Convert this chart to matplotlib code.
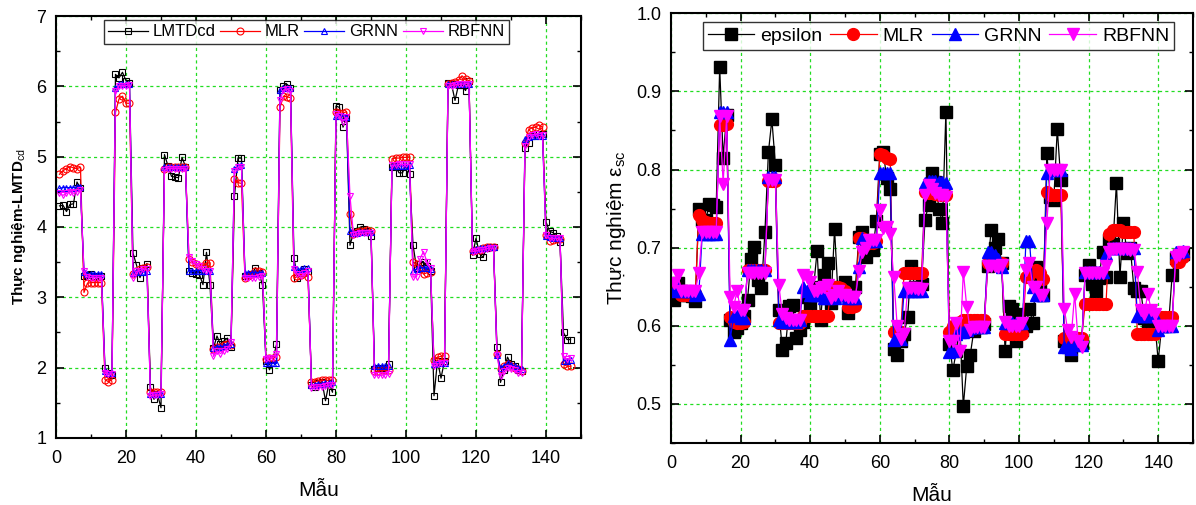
import numpy as np
import matplotlib.pyplot as plt
from matplotlib.ticker import MultipleLocator

plt.rcParams['font.family'] = ['Liberation Sans', 'DejaVu Sans']
plt.rcParams['mathtext.fontset'] = 'custom'
plt.rcParams['mathtext.rm'] = 'Liberation Sans'
plt.rcParams['mathtext.it'] = 'Liberation Sans'

# ---- left panel: LMTDcd (sample 1..147) ----
lmtd = [4.30, 4.31, 4.22, 4.32, 4.33, 4.64, 4.55,
        3.31, 3.32, 3.33, 3.31, 3.30, 3.30,
        2.00, 1.93, 1.89,
        6.17, 6.12, 6.20, 6.08, 6.05,
        3.63, 3.46, 3.28, 3.42, 3.48,
        1.72, 1.55, 1.62, 1.43,
        5.03, 4.87, 4.72, 4.71, 4.70, 4.99, 4.86,
        3.38, 3.35, 3.33, 3.32, 3.18, 3.64, 3.17,
        2.28, 2.45, 2.33, 2.38, 2.42, 2.30,
        4.44, 4.98, 4.98,
        3.30, 3.32, 3.33, 3.42, 3.35, 3.17,
        2.10, 1.97, 2.12, 2.33,
        5.95, 6.01, 6.03, 5.98,
        3.56, 3.28, 3.35, 3.40, 3.38,
        1.75, 1.73, 1.78, 1.80, 1.53, 1.78, 1.65,
        5.72, 5.70, 5.42, 5.55,
        3.74, 3.92, 3.95, 4.00, 3.97, 3.95, 3.87,
        1.98, 2.00, 1.98, 1.99, 2.05,
        4.86, 4.87, 4.77, 4.77, 4.90, 4.76,
        3.75, 3.42, 3.48, 3.50, 3.45, 3.37,
        1.60, 2.10, 1.85, 2.10,
        6.05, 6.03, 5.80, 6.02, 6.02, 5.94, 6.07,
        3.60, 3.84, 3.62, 3.57, 3.70, 3.72, 3.72,
        2.29, 1.79, 1.97, 2.15, 2.05, 2.02, 1.96, 1.95,
        5.13, 5.20, 5.30, 5.32, 5.32, 5.32,
        4.07, 3.94, 3.92, 3.87, 3.79,
        2.50, 2.40, 2.40]
mlr_l = [4.75, 4.80, 4.83, 4.86, 4.84, 4.83, 4.85,
         3.07, 3.20, 3.21, 3.21, 3.21, 3.21,
         1.83, 1.80, 1.83,
         5.63, 5.82, 5.86, 5.76, 5.76,
         3.33, 3.38, 3.40, 3.42, 3.43,
         1.66, 1.66, 1.66, 1.66,
         4.83, 4.86, 4.86, 4.86, 4.86, 4.86, 4.86,
         3.55, 3.50, 3.47, 3.45, 3.44, 3.49, 3.49,
         2.27, 2.30, 2.30, 2.32, 2.33, 2.32,
         4.68, 4.63, 4.62,
         3.27, 3.30, 3.33, 3.37, 3.38, 3.36,
         2.13, 2.14, 2.14, 2.15,
         5.70, 5.86, 5.85, 5.84,
         3.27, 3.30, 3.32, 3.35, 3.29,
         1.80, 1.80, 1.81, 1.82, 1.82, 1.82, 1.83,
         5.63, 5.62, 5.62, 5.64,
         4.19, 3.90, 3.93, 3.94, 3.95, 3.96, 3.95,
         1.95, 1.95, 1.96, 1.96, 1.96,
         4.97, 4.98, 4.98, 4.99, 4.99, 5.00,
         3.50, 3.47, 3.40, 3.33, 3.35, 3.36,
         2.11, 2.15, 2.16, 2.17,
         6.03, 6.05, 6.06, 6.09, 6.15, 6.10, 6.08,
         3.66, 3.68, 3.68, 3.70, 3.71, 3.72, 3.72,
         2.20, 1.98, 2.02, 2.05, 2.02, 2.00, 1.98, 1.95,
         5.20, 5.38, 5.41, 5.42, 5.45, 5.42,
         3.88, 3.80, 3.82, 3.83, 3.83,
         2.05, 2.02, 2.02]
grnn_l = [4.55, 4.56, 4.56, 4.56, 4.56, 4.57, 4.57,
          3.36, 3.33, 3.33, 3.33, 3.33, 3.33,
          1.95, 1.93, 1.93,
          5.97, 6.03, 6.03, 6.03, 6.03,
          3.35, 3.36, 3.36, 3.36, 3.37,
          1.63, 1.63, 1.63, 1.63,
          4.85, 4.86, 4.86, 4.86, 4.86, 4.86, 4.86,
          3.37, 3.37, 3.38, 3.38, 3.38, 3.38, 3.38,
          2.28, 2.30, 2.30, 2.31, 2.32, 2.33,
          4.83, 4.87, 4.88,
          3.35, 3.35, 3.35, 3.35, 3.35, 3.35,
          2.06, 2.06, 2.06, 2.06,
          5.95, 5.98, 5.98, 5.98,
          3.43, 3.40, 3.40, 3.41, 3.41,
          1.75, 1.76, 1.77, 1.77, 1.78, 1.78, 1.79,
          5.58, 5.58, 5.58, 5.57,
          3.95, 3.92, 3.92, 3.93, 3.93, 3.93, 3.93,
          2.02, 2.02, 2.02, 2.02, 2.02,
          4.87, 4.87, 4.87, 4.87, 4.87, 4.88,
          3.38, 3.40, 3.42, 3.42, 3.41, 3.40,
          2.05, 2.07, 2.07, 2.07,
          6.04, 6.04, 6.04, 6.04, 6.04, 6.04, 6.04,
          3.68, 3.69, 3.70, 3.70, 3.71, 3.71, 3.72,
          2.18, 2.00, 2.03, 2.06, 2.04, 2.02, 2.00, 1.98,
          5.25, 5.28, 5.30, 5.30, 5.30, 5.30,
          3.87, 3.86, 3.85, 3.85, 3.85,
          2.10, 2.10, 2.11]
rbf_l = [4.48, 4.45, 4.48, 4.50, 4.48, 4.50, 4.52,
         3.38, 3.29, 3.28, 3.28, 3.28, 3.28,
         1.92, 1.91, 1.91,
         5.93, 6.01, 6.01, 6.01, 6.02,
         3.28, 3.37, 3.38, 3.40, 3.40,
         1.60, 1.61, 1.61, 1.62,
         4.81, 4.83, 4.83, 4.83, 4.83, 4.83, 4.83,
         3.57, 3.52, 3.48, 3.45, 3.40, 3.38, 3.37,
         2.16, 2.24, 2.20, 2.24, 2.27, 2.36,
         4.80, 4.85, 4.86,
         3.28, 3.28, 3.28, 3.28, 3.29, 3.30,
         2.12, 2.14, 2.14, 2.20,
         5.80, 5.95, 5.96, 5.93,
         3.40, 3.33, 3.30, 3.34, 3.38,
         1.71, 1.72, 1.73, 1.73, 1.74, 1.75, 1.76,
         5.60, 5.58, 5.50, 5.56,
         4.44, 3.88, 3.90, 3.91, 3.91, 3.92, 3.92,
         1.89, 1.89, 1.89, 1.90, 1.91,
         4.88, 4.88, 4.89, 4.89, 4.89, 4.89,
         3.29, 3.29, 3.55, 3.65, 3.50, 3.41,
         2.02, 2.05, 2.06, 2.07,
         6.00, 6.01, 6.02, 6.03, 6.03, 6.04, 6.04,
         3.65, 3.66, 3.67, 3.68, 3.69, 3.70, 3.70,
         2.18, 1.88, 1.95, 2.00, 1.98, 1.96, 1.93, 1.92,
         5.15, 5.28, 5.31, 5.32, 5.30, 5.31,
         3.88, 3.84, 3.84, 3.84, 3.84,
         2.16, 2.12, 2.14]

# ---- right panel: epsilon (sample 1..147) ----
eps = [0.633, 0.655, 0.645, 0.640, 0.640, 0.638, 0.632,
       0.750,
       0.735, 0.735, 0.756, 0.754, 0.752,
       0.931, 0.815, 0.870,
       0.607, 0.592, 0.597, 0.603, 0.612,
       0.633, 0.685, 0.701, 0.659, 0.648, 0.720,
       0.822, 0.864, 0.806,
       0.620, 0.569, 0.578, 0.625, 0.626, 0.584, 0.594,
       0.605, 0.637, 0.627, 0.650, 0.696, 0.607, 0.665, 0.680,
       0.629, 0.724, 0.640, 0.650, 0.656, 0.616, 0.648, 0.650,
       0.714, 0.720, 0.688, 0.699, 0.697, 0.734,
       0.820, 0.822, 0.789, 0.775,
       0.570, 0.563, 0.580,
       0.590, 0.611, 0.677, 0.650, 0.648, 0.654,
       0.736, 0.754, 0.795, 0.784, 0.750, 0.731, 0.874,
       0.577, 0.543, 0.568, 0.600, 0.497, 0.549, 0.563, 0.593, 0.600, 0.598, 0.602,
       0.676, 0.722, 0.700, 0.711, 0.680,
       0.568, 0.625, 0.622, 0.580, 0.615, 0.595,
       0.600, 0.622, 0.603, 0.675, 0.655, 0.640,
       0.821, 0.765, 0.761, 0.852, 0.787,
       0.580, 0.575, 0.562, 0.578, 0.583, 0.578,
       0.665, 0.678, 0.654, 0.644, 0.661, 0.695, 0.663,
       0.710, 0.705, 0.783, 0.663, 0.731, 0.693, 0.700, 0.648,
       0.644, 0.645, 0.610, 0.603, 0.610, 0.605,
       0.555, 0.600, 0.602, 0.603, 0.665,
       0.687, 0.690, 0.692]
mlr_r = [0.652, 0.645, 0.640, 0.640, 0.640, 0.641, 0.642,
         0.742,
         0.735, 0.733, 0.732, 0.732, 0.732,
         0.857, 0.857, 0.858,
         0.611, 0.605, 0.604, 0.604, 0.605,
         0.672, 0.672, 0.672, 0.672, 0.672, 0.672,
         0.785, 0.785, 0.785,
         0.604, 0.604, 0.604, 0.604, 0.604, 0.604, 0.604,
         0.612, 0.612, 0.612, 0.612, 0.612, 0.612, 0.612, 0.612,
         0.648, 0.650, 0.650, 0.648, 0.645, 0.624, 0.624, 0.625,
         0.712, 0.712, 0.705, 0.706, 0.706, 0.708,
         0.820, 0.818, 0.815, 0.813,
         0.592, 0.592, 0.592,
         0.668, 0.668, 0.668, 0.668, 0.668, 0.668,
         0.771, 0.770, 0.770, 0.769, 0.768, 0.767, 0.767,
         0.592, 0.600, 0.603, 0.605, 0.607, 0.607, 0.607, 0.607, 0.607, 0.607, 0.607,
         0.680, 0.682, 0.682, 0.680, 0.680,
         0.590, 0.590, 0.590, 0.590, 0.590, 0.590,
         0.662, 0.665, 0.670, 0.672, 0.668, 0.660,
         0.771, 0.768, 0.768, 0.768, 0.767,
         0.584, 0.584, 0.584, 0.584, 0.584, 0.584,
         0.628, 0.628, 0.628, 0.628, 0.628, 0.628, 0.628,
         0.718, 0.722, 0.722, 0.722, 0.720, 0.720, 0.720, 0.720,
         0.590, 0.590, 0.590, 0.590, 0.590, 0.590,
         0.611, 0.611, 0.611, 0.611, 0.611,
         0.682, 0.682, 0.688]
grnn_r = [0.645, 0.650, 0.645, 0.645, 0.645, 0.645, 0.640,
          0.641,
          0.718, 0.718, 0.718, 0.718, 0.718,
          0.873, 0.873, 0.873,
          0.582, 0.612, 0.612, 0.610, 0.610,
          0.672, 0.672, 0.672, 0.672, 0.672, 0.672,
          0.790, 0.790, 0.790,
          0.607, 0.605, 0.605, 0.605, 0.605, 0.605, 0.607,
          0.650, 0.645, 0.640, 0.640, 0.640, 0.640, 0.635, 0.635,
          0.640, 0.635, 0.640, 0.640, 0.640, 0.635, 0.635, 0.635,
          0.675, 0.712, 0.708, 0.708, 0.708, 0.708,
          0.795, 0.795, 0.795, 0.795,
          0.582, 0.585, 0.583,
          0.645, 0.645, 0.645, 0.645, 0.645, 0.645,
          0.783, 0.785, 0.785, 0.785, 0.784, 0.784, 0.783,
          0.567, 0.568, 0.590, 0.592, 0.592, 0.595, 0.597, 0.598, 0.598, 0.598, 0.598,
          0.695, 0.695, 0.690, 0.685, 0.675,
          0.603, 0.603, 0.603, 0.603, 0.603, 0.603,
          0.709, 0.709, 0.650, 0.640, 0.640, 0.640,
          0.796, 0.800, 0.800, 0.800, 0.800,
          0.573, 0.573, 0.570, 0.575, 0.578, 0.575,
          0.669, 0.669, 0.669, 0.669, 0.669, 0.669, 0.692,
          0.700, 0.700, 0.700, 0.700, 0.700, 0.700, 0.700, 0.700,
          0.612, 0.612, 0.612, 0.612, 0.612, 0.612,
          0.595, 0.600, 0.600, 0.600, 0.600,
          0.695, 0.695, 0.696]
rbf_r = [0.655, 0.665, 0.645, 0.645, 0.645, 0.645, 0.645,
         0.667,
         0.720, 0.720, 0.720, 0.720, 0.720,
         0.868, 0.782, 0.868,
         0.637, 0.624, 0.645, 0.620, 0.620,
         0.668, 0.668, 0.668, 0.668, 0.668, 0.668,
         0.787, 0.787, 0.787,
         0.652, 0.615, 0.610, 0.607, 0.607, 0.607, 0.607,
         0.665, 0.663, 0.656, 0.645, 0.645, 0.648, 0.650, 0.652,
         0.635, 0.640, 0.645, 0.640, 0.640, 0.637, 0.637, 0.637,
         0.670, 0.695, 0.700, 0.710, 0.710, 0.710,
         0.748, 0.725, 0.727, 0.717,
         0.663, 0.600, 0.583,
         0.590, 0.648, 0.648, 0.648, 0.647, 0.647,
         0.767, 0.780, 0.775, 0.770, 0.768, 0.767, 0.765,
         0.581, 0.581, 0.603, 0.568, 0.669, 0.624, 0.594, 0.598, 0.598, 0.598, 0.598,
         0.677, 0.677, 0.677, 0.675, 0.678,
         0.605, 0.600, 0.600, 0.600, 0.600, 0.603,
         0.671, 0.680, 0.650, 0.650, 0.640, 0.640,
         0.731, 0.800, 0.800, 0.800, 0.800,
         0.622, 0.594, 0.586, 0.641, 0.580, 0.573,
         0.667, 0.667, 0.667, 0.667, 0.667, 0.667, 0.677,
         0.695, 0.698, 0.698, 0.698, 0.698, 0.698, 0.697, 0.697,
         0.669, 0.620, 0.615, 0.641, 0.620, 0.615,
         0.600, 0.600, 0.600, 0.600, 0.600,
         0.688, 0.690, 0.694]

samples = np.arange(1, len(lmtd) + 1)
samples_r = np.arange(1, len(eps) + 1)

grid_kw = dict(color='#22dd22', linestyle=(0, (2.5, 2.5)), linewidth=0.9)


def style_axes(ax):
    ax.tick_params(which='both', direction='in', top=True, right=True, labelsize=13, pad=7)
    ax.tick_params(axis='x', which='both', pad=9)
    ax.tick_params(which='major', length=6, width=1.2)
    ax.tick_params(which='minor', length=3, width=1.0)
    for s in ax.spines.values():
        s.set_linewidth(1.5)
    ax.grid(True, which='major', **grid_kw)
    ax.set_axisbelow(True)
    ax.set_xlim(0, 150)
    ax.xaxis.set_major_locator(MultipleLocator(20))
    ax.xaxis.set_minor_locator(MultipleLocator(10))
    ax.set_xlabel('Mẫu', fontsize=15, labelpad=10)


fig = plt.figure(figsize=(11.96, 5.05), dpi=100)

# left
ax1 = fig.add_axes([0.0468, 0.1327, 0.439, 0.8356])
mk = dict(markersize=5, markerfacecolor='none', markeredgewidth=0.8, linewidth=0.9)
ax1.plot(samples, lmtd, '-s', color='black', label='LMTDcd', **mk)
ax1.plot(samples, mlr_l, '-o', color='red', label='MLR', **mk)
ax1.plot(samples, grnn_l, '-^', color='blue', label='GRNN', **mk)
ax1.plot(samples, rbf_l, '-v', color='magenta', label='RBFNN', **mk)
style_axes(ax1)
ax1.set_ylim(1, 7)
ax1.yaxis.set_major_locator(MultipleLocator(1))
ax1.yaxis.set_minor_locator(MultipleLocator(0.5))
ax1.set_ylabel('Thực nghiệm-LMTD$_{cd}$', fontsize=11, fontweight='bold', labelpad=6)
leg1 = ax1.legend(loc='upper left', bbox_to_anchor=(0.091, 0.99), ncol=4, fontsize=12,
                  frameon=True, fancybox=False, borderaxespad=0, handlelength=2.4,
                  handletextpad=0.3, columnspacing=0.25, borderpad=0.25, labelspacing=0.2)
leg1.get_frame().set_edgecolor('black')
leg1.get_frame().set_linewidth(1.0)

# right
ax2 = fig.add_axes([0.561, 0.1228, 0.4365, 0.851])
mk2 = dict(markersize=8.5, linewidth=0.9)
ax2.plot(samples_r, eps, '-s', color='black', label='epsilon', **mk2)
ax2.plot(samples_r, mlr_r, '-o', color='red', label='MLR', **mk2)
ax2.plot(samples_r, grnn_r, '-^', color='blue', label='GRNN', **mk2)
ax2.plot(samples_r, rbf_r, '-v', color='magenta', label='RBFNN', **mk2)
style_axes(ax2)
ax2.set_ylim(0.45, 1.0)
ax2.yaxis.set_major_locator(MultipleLocator(0.1))
ax2.yaxis.set_minor_locator(MultipleLocator(0.05))
ax2.set_ylabel('Thực nghiệm ε$_{sc}$', fontsize=15, labelpad=6)
leg2 = ax2.legend(loc='upper left', bbox_to_anchor=(0.061, 0.979), ncol=4, fontsize=14,
                  frameon=True, fancybox=False, borderaxespad=0, handlelength=2.4,
                  handletextpad=0.3, columnspacing=0.4, borderpad=0.25, labelspacing=0.2)
leg2.get_frame().set_edgecolor('black')
leg2.get_frame().set_linewidth(1.0)

fig.savefig('out.png', dpi=100)
